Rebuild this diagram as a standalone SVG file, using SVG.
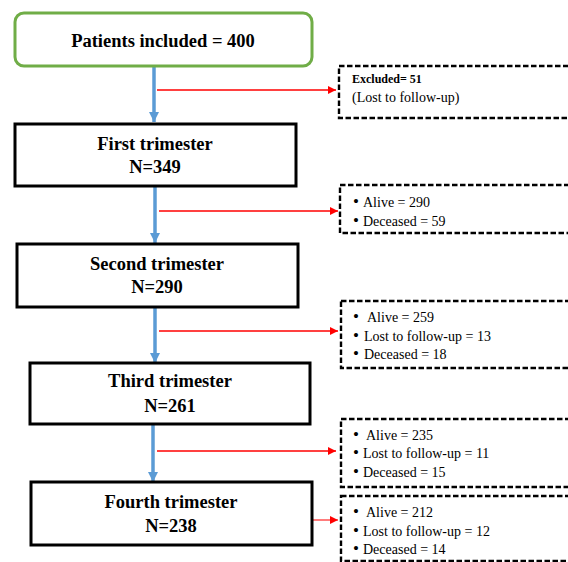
<svg xmlns="http://www.w3.org/2000/svg" width="568" height="562" viewBox="0 0 568 562">
<style>
.box{fill:#fff;stroke:#000;stroke-width:3}
.dash{fill:#fff;stroke:#000;stroke-width:2.4;stroke-dasharray:5.5 2.5}
.t{font-family:"Liberation Serif","Times New Roman",serif;font-weight:bold;font-size:18.5px;text-anchor:middle;fill:#000}
.s{font-family:"Liberation Serif","Times New Roman",serif;font-size:14px;fill:#000}
.b{font-size:17px}
.blue{stroke:#5B9BD5;stroke-width:3.5;fill:none}
.red{stroke:#FF0000;stroke-width:1.5;fill:none}
</style>
<defs>
<marker id="ab" viewBox="0 0 10 10" refX="10" refY="5" markerUnits="userSpaceOnUse" markerWidth="11" markerHeight="10" orient="auto"><path d="M0,0 L10,5 L0,10 z" fill="#5B9BD5"/></marker>
<marker id="ar" viewBox="0 0 10 10" refX="10" refY="5" markerUnits="userSpaceOnUse" markerWidth="9" markerHeight="8" orient="auto"><path d="M0,0 L10,5 L0,10 z" fill="#FF0000"/></marker>
</defs>
<rect width="568" height="562" fill="#fff"/>
<g id="connectors">
<line class="blue" x1="154" y1="67" x2="154" y2="122" marker-end="url(#ab)"/>
<line class="red" x1="157" y1="90" x2="336" y2="90" marker-end="url(#ar)"/>
<line class="blue" x1="155" y1="186" x2="155" y2="243" marker-end="url(#ab)"/>
<line class="red" x1="159" y1="211" x2="338" y2="211" marker-end="url(#ar)"/>
<line class="blue" x1="155" y1="307" x2="155" y2="363" marker-end="url(#ab)"/>
<line class="red" x1="159" y1="331" x2="338" y2="331" marker-end="url(#ar)"/>
<line class="blue" x1="153" y1="424" x2="153" y2="482" marker-end="url(#ab)"/>
<line class="red" x1="157" y1="451" x2="336" y2="451" marker-end="url(#ar)"/>
<line x1="312" y1="520" x2="338" y2="520" stroke="#FF5050" stroke-width="1.5" marker-end="url(#ar)"/>
</g>
<g id="n0">
<rect x="15" y="13" width="297" height="53" rx="9" fill="#fff" stroke="#70AD47" stroke-width="3"/>
<text class="t" x="163" y="47">Patients included = 400</text>
</g>
<g id="n1">
<rect class="box" x="15" y="124" width="281" height="62"/>
<text class="t" x="155" y="150">First trimester</text>
<text class="t" x="155" y="173">N=349</text>
</g>
<g id="n2">
<rect class="box" x="17" y="244" width="281" height="63"/>
<text class="t" x="157" y="270">Second trimester</text>
<text class="t" x="157" y="293">N=290</text>
</g>
<g id="n3">
<rect class="box" x="30" y="363" width="280" height="61"/>
<text class="t" x="170" y="387">Third trimester</text>
<text class="t" x="170" y="412">N=261</text>
</g>
<g id="n4">
<rect class="box" x="31" y="482" width="281" height="63"/>
<text class="t" x="171" y="508">Fourth trimester</text>
<text class="t" x="171" y="532">N=238</text>
</g>
<g id="e1">
<rect class="dash" x="339" y="66" width="240" height="52"/>
<text x="352" y="83" font-family="'Liberation Serif','Times New Roman',serif" font-weight="bold" font-size="12">Excluded= 51</text>
<text class="s" x="352" y="102">(Lost to follow-up)</text>
</g>
<g id="e2">
<rect class="dash" x="340" y="185" width="240" height="48"/>
<text class="s" y="207"><tspan class="b" x="353">•</tspan><tspan x="363">Alive = 290</tspan></text>
<text class="s" y="226"><tspan class="b" x="353">•</tspan><tspan x="363">Deceased = 59</tspan></text>
</g>
<g id="e3">
<rect class="dash" x="341" y="301" width="240" height="67"/>
<text class="s" y="322"><tspan class="b" x="353">•</tspan><tspan x="367">Alive = 259</tspan></text>
<text class="s" y="341"><tspan class="b" x="353">•</tspan><tspan x="364">Lost to follow-up = 13</tspan></text>
<text class="s" y="359"><tspan class="b" x="353">•</tspan><tspan x="364">Deceased = 18</tspan></text>
</g>
<g id="e4">
<rect class="dash" x="341" y="419" width="240" height="68"/>
<text class="s" y="440"><tspan class="b" x="353">•</tspan><tspan x="366">Alive = 235</tspan></text>
<text class="s" y="458"><tspan class="b" x="353">•</tspan><tspan x="363">Lost to follow-up = 11</tspan></text>
<text class="s" y="477"><tspan class="b" x="353">•</tspan><tspan x="363">Deceased = 15</tspan></text>
</g>
<g id="e5">
<rect class="dash" x="341" y="496" width="240" height="65"/>
<text class="s" y="517"><tspan class="b" x="353">•</tspan><tspan x="366">Alive = 212</tspan></text>
<text class="s" y="536"><tspan class="b" x="353">•</tspan><tspan x="363">Lost to follow-up = 12</tspan></text>
<text class="s" y="554"><tspan class="b" x="353">•</tspan><tspan x="363">Deceased = 14</tspan></text>
</g>
</svg>
